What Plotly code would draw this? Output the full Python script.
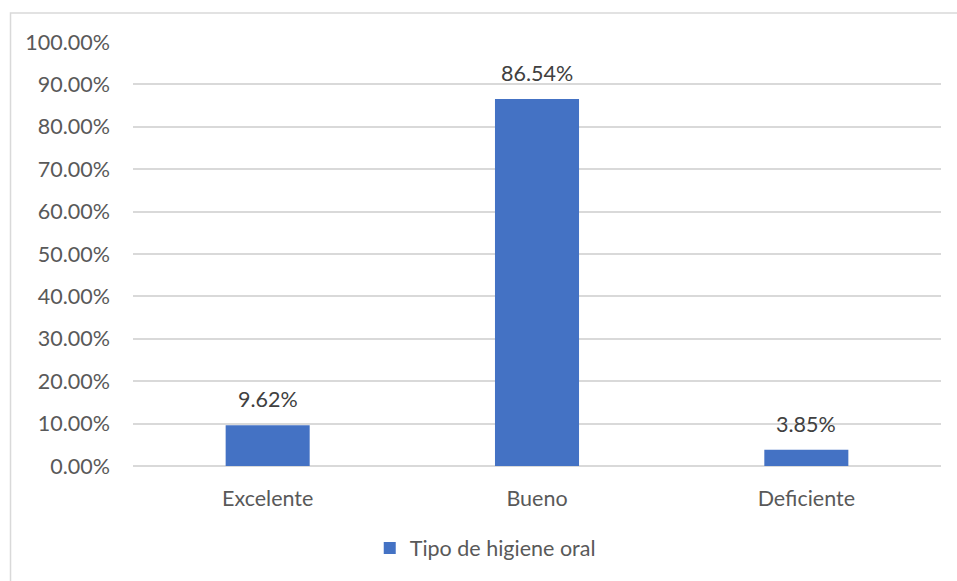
import plotly.graph_objects as go

# Oral hygiene categories and their share of the sample
categorias = ["Excelente", "Bueno", "Deficiente"]
porcentajes = [0.0962, 0.8654, 0.0385]
serie = "Tipo de higiene oral"

tick_vals = [i / 10 for i in range(11)]
tick_text = [f"{v * 100:.2f}%" for v in tick_vals]

FONT = "Lato, Carlito, Calibri, sans-serif"
FS = 21.5
AXIS_GREY = "#595959"
GRID = "#d9d9d9"
BAR = "#4472c4"

fig = go.Figure()
fig.add_trace(go.Bar(
    x=categorias,
    y=porcentajes,
    name=serie,
    marker=dict(color=BAR, line=dict(width=0)),
    width=0.312,
    hoverinfo="skip",
))

# value labels above each bar
for c, v in zip(categorias, porcentajes):
    fig.add_annotation(
        x=c, y=v, xref="x", yref="y",
        text=f"{v * 100:.2f}%",
        showarrow=False, yanchor="bottom", yshift=11,
        font=dict(family=FONT, size=FS, color="#404040"),
    )

# thin frame around the chart area
fig.add_shape(
    type="rect", xref="paper", yref="paper",
    x0=-0.1516, x1=1.2, y0=-0.5, y1=1.0684,
    line=dict(color=GRID, width=1.5), fillcolor="rgba(0,0,0,0)", layer="below",
)

fig.update_layout(
    width=957, height=581,
    margin=dict(l=133, r=16, t=42, b=115, autoexpand=False),
    paper_bgcolor="white", plot_bgcolor="white",
    font=dict(family=FONT, size=FS, color=AXIS_GREY),
    bargap=0.688,
    showlegend=True,
    legend=dict(
        orientation="h", x=0.293, xanchor="left",
        yref="container", y=0.092, yanchor="top",
        font=dict(family=FONT, size=FS, color=AXIS_GREY),
        bgcolor="rgba(0,0,0,0)",
    ),
    xaxis=dict(
        showgrid=False, zeroline=False, showline=False, automargin=False,
        ticks="", ticklabelstandoff=17,
        tickfont=dict(family=FONT, size=FS, color=AXIS_GREY),
    ),
    yaxis=dict(
        range=[0, 1], tickvals=tick_vals, ticktext=tick_text, automargin=False,
        showgrid=True, gridcolor=GRID, gridwidth=1.5,
        zeroline=True, zerolinecolor=GRID, zerolinewidth=1.5,
        showline=False, ticks="", ticklabelstandoff=22,
        tickfont=dict(family=FONT, size=FS, color=AXIS_GREY),
    ),
)

fig.write_html("out.html")
